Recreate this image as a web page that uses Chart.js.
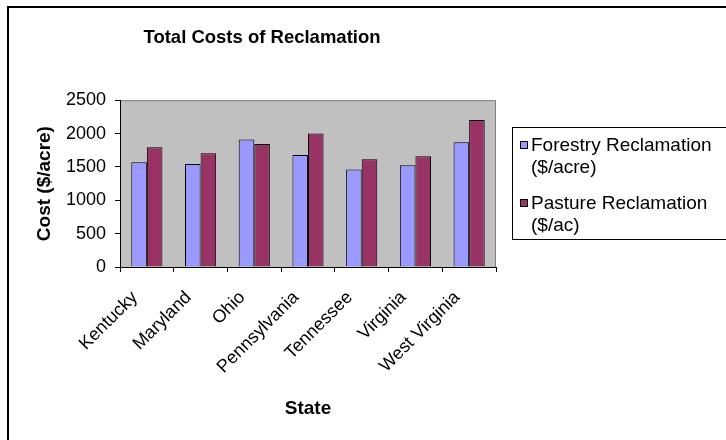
<!DOCTYPE html>
<html>
<head>
<meta charset="utf-8">
<title>Total Costs of Reclamation</title>
<script src="https://cdn.jsdelivr.net/npm/chart.js@4.4.1/dist/chart.umd.min.js"></script>
<style>
  html, body { margin: 0; padding: 0; background: #fff; }
  canvas { display: block; }
</style>
</head>
<body>
<canvas id="costChart" width="726" height="440"></canvas>
<script>
const states = ['Kentucky', 'Maryland', 'Ohio', 'Pennsylvania', 'Tennessee', 'Virginia', 'West Virginia'];
const forestryCost = [1570, 1545, 1910, 1680, 1460, 1525, 1870];
const pastureCost = [1795, 1705, 1845, 2000, 1615, 1660, 2205];
const forestryLabel = ['Forestry Reclamation', '($/acre)'];
const pastureLabel = ['Pasture Reclamation', '($/ac)'];

const FONT = '"Liberation Sans", Arial, sans-serif';

// gray plot background + outer frame
const backdrop = {
  id: 'backdrop',
  beforeDraw(chart) {
    const { ctx, chartArea: a } = chart;
    ctx.save();
    ctx.strokeStyle = '#000';
    ctx.lineWidth = 2;
    ctx.strokeRect(8, 7, 760, 480);
    ctx.fillStyle = '#c0c0c0';
    ctx.fillRect(a.left, a.top, a.right - a.left, a.bottom - a.top);
    ctx.strokeStyle = '#808080';
    ctx.lineWidth = 1;
    ctx.beginPath();
    ctx.moveTo(a.left, a.top + 0.5);
    ctx.lineTo(a.right - 0.5, a.top + 0.5);
    ctx.lineTo(a.right - 0.5, a.bottom);
    ctx.stroke();
    ctx.restore();
  }
};

// Excel style legend box with two-line entries
const sideLegend = {
  id: 'sideLegend',
  afterDraw(chart) {
    const { ctx } = chart;
    const entries = [forestryLabel, pastureLabel];
    const rows = [[145, 167], [203, 225]];
    ctx.save();
    ctx.strokeStyle = '#000';
    ctx.lineWidth = 1;
    ctx.strokeRect(512.5, 127.5, 300, 112);
    ctx.font = '19px ' + FONT;
    ctx.textBaseline = 'middle';
    entries.forEach((lines, i) => {
      const ds = chart.data.datasets[i];
      ctx.fillStyle = ds.backgroundColor;
      ctx.fillRect(520, rows[i][0] - 4, 8, 8);
      ctx.strokeRect(520.5, rows[i][0] - 3.5, 7, 7);
      ctx.fillStyle = '#000';
      lines.forEach((t, j) => ctx.fillText(t, 531, rows[i][j] + 1));
    });
    ctx.restore();
  }
};

new Chart(document.getElementById('costChart'), {
  type: 'bar',
  data: {
    labels: states,
    datasets: [
      { label: forestryLabel.join(' '), data: forestryCost, backgroundColor: '#9999ff', borderColor: '#000', borderWidth: 1 },
      { label: pastureLabel.join(' '), data: pastureCost, backgroundColor: '#993366', borderColor: '#000', borderWidth: 1 }
    ]
  },
  options: {
    responsive: false,
    animation: false,
    layout: { padding: { left: 28, right: 230, top: 0, bottom: 0 } },
    datasets: { bar: { categoryPercentage: 0.58, barPercentage: 1 } },
    plugins: {
      legend: { display: false },
      tooltip: { enabled: false },
      title: {
        display: true,
        text: 'Total Costs of Reclamation',
        color: '#000',
        font: { family: FONT, size: 18.5, weight: 'bold' },
        padding: { top: 27, bottom: 51 }
      }
    },
    scales: {
      x: {
        afterFit: s => { s.height = 173; },
        grid: { drawOnChartArea: false, color: '#000', tickLength: 5 },
        border: { color: '#000', width: 1 },
        ticks: {
          color: '#000', autoSkip: false, minRotation: 45, maxRotation: 45,
          padding: 15, labelOffset: -12,
          font: { family: FONT, size: 18 }
        },
        title: {
          display: true, text: 'State', color: '#000',
          font: { family: FONT, size: 19, weight: 'bold' },
          padding: { top: 0, bottom: 20 }
        }
      },
      y: {
        min: 0, max: 2500,
        afterFit: s => { s.width = 92; },
        grid: { drawOnChartArea: false, color: '#000', tickLength: 5 },
        border: { color: '#000', width: 1 },
        ticks: {
          stepSize: 500, color: '#000', padding: 9,
          font: { family: FONT, size: 18 },
          callback: v => String(v)
        },
        title: {
          display: true, text: 'Cost ($/acre)', color: '#000',
          font: { family: FONT, size: 19, weight: 'bold' },
          padding: { top: 5, bottom: 0 }
        }
      }
    }
  },
  plugins: [backdrop, sideLegend]
});
</script>
</body>
</html>
